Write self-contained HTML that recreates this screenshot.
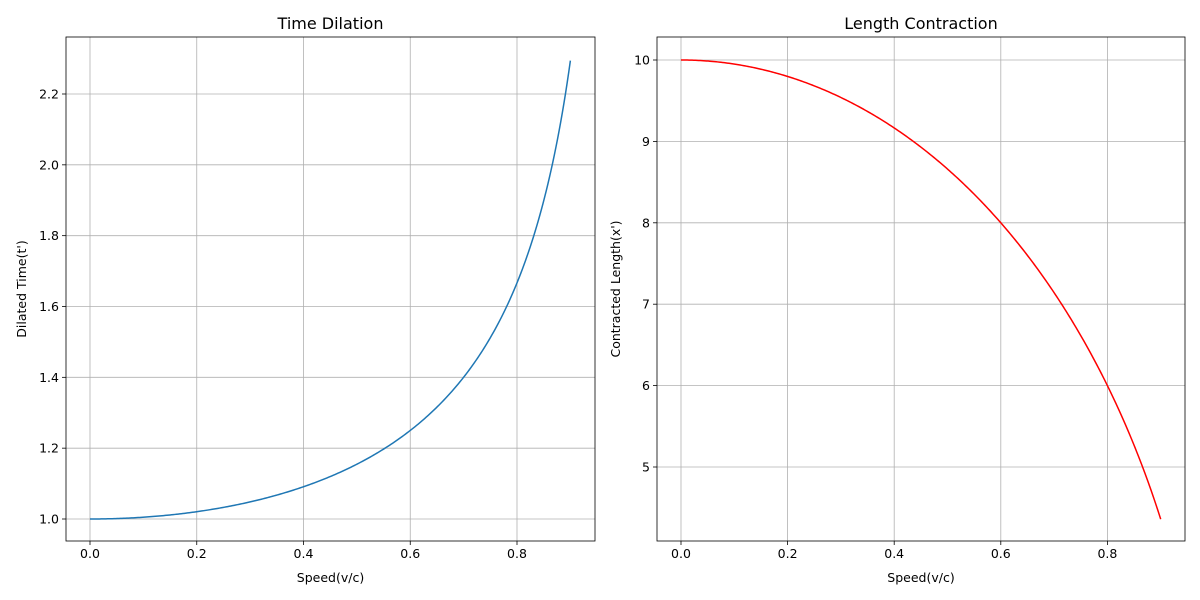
<!DOCTYPE html>
<html><head><meta charset="utf-8"><style>
html,body{margin:0;padding:0;background:#fff;}
svg{display:block;font-family:"DejaVu Sans","Liberation Sans",sans-serif;}
</style></head><body>
<svg id="s" width="1200" height="600" viewBox="0 0 1200 600" xmlns="http://www.w3.org/2000/svg">
<rect width="1200" height="600" fill="#fff"/>
<g id="g"></g>
</svg>
<script>
var g=document.getElementById('g'),h='';
function plot(x0,x1,y0,y1,xz,xs,yf,yticks,title,fn,color){
  for(var i=0;i<5;i++){var x=xz+i*xs;h+='<line x1="'+x+'" y1="'+y0+'" x2="'+x+'" y2="'+y1+'" stroke="#b0b0b0" stroke-width="0.8"/>';
   h+='<line x1="'+x+'" y1="'+y1+'" x2="'+x+'" y2="'+(y1+4)+'" stroke="#000" stroke-width="0.8"/>';
   h+='<text x="'+x+'" y="'+(y1+17)+'" font-size="12.5" text-anchor="middle">'+(i*0.2).toFixed(1)+'</text>';}
  yticks.forEach(function(t){var y=yf(t.v);h+='<line x1="'+x0+'" y1="'+y+'" x2="'+x1+'" y2="'+y+'" stroke="#b0b0b0" stroke-width="0.8"/>';
   h+='<line x1="'+(x0-4)+'" y1="'+y+'" x2="'+x0+'" y2="'+y+'" stroke="#000" stroke-width="0.8"/>';
   h+='<text x="'+(x0-7)+'" y="'+(y+4.5)+'" font-size="12.5" text-anchor="end">'+t.l+'</text>';});
  var p='';for(var k=0;k<=300;k++){var v=0.9*k/300;p+=(k?'L':'M')+(xz+v*xs*5).toFixed(2)+','+yf(fn(v)).toFixed(2);}
  h+='<path d="'+p+'" fill="none" stroke="'+color+'" stroke-width="1.5"/>';
  h+='<rect x="'+x0+'" y="'+y0+'" width="'+(x1-x0)+'" height="'+(y1-y0)+'" fill="none" stroke="#000" stroke-width="0.8"/>';
  h+='<text x="'+((x0+x1)/2)+'" y="29" font-size="16" text-anchor="middle">'+title+'</text>';
  h+='<text x="'+((x0+x1)/2)+'" y="582" font-size="12.5" text-anchor="middle">Speed(v/c)</text>';
}
plot(66,595,37,541,90,106.75,function(v){return 519-(v-1)*354.17;},
 [1.0,1.2,1.4,1.6,1.8,2.0,2.2].map(function(v){return{v:v,l:v.toFixed(1)}}),
 'Time Dilation',function(v){return 1/Math.sqrt(1-v*v)},'#1f77b4');
plot(657,1185,37,541,681,106.6,function(v){return 60+(10-v)*81.4;},
 [5,6,7,8,9,10].map(function(v){return{v:v,l:String(v)}}),
 'Length Contraction',function(v){return 10*Math.sqrt(1-v*v)},'#ff0000');
h+='<text transform="translate(26,289) rotate(-90)" font-size="12.5" text-anchor="middle">Dilated Time(t\')</text>';
h+='<text transform="translate(620,289) rotate(-90)" font-size="12.5" text-anchor="middle">Contracted Length(x\')</text>';
g.innerHTML=h;
</script>
</body></html>
